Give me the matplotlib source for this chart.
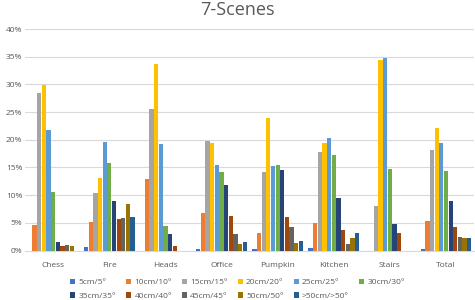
import numpy as np
import matplotlib
matplotlib.use('Agg')
import matplotlib.pyplot as plt
from matplotlib.patches import Patch

# Datos
escenas = ['Chess', 'Fire', 'Heads', 'Office', 'Pumpkin', 'Kitchen', 'Stairs', 'Total']
umbrales = ['5cm/5°', '10cm/10°', '15cm/15°', '20cm/20°', '25cm/25°', '30cm/30°',
            '35cm/35°', '40cm/40°', '45cm/45°', '50cm/50°', '>50cm/>50°']
colores = ['#4472C4', '#ED7D31', '#A5A5A5', '#FFC000', '#5B9BD5', '#70AD47',
           '#264478', '#9E480E', '#636363', '#997300', '#255E91']

# porcentajes por escena (una lista por umbral)
p_5 = [0.0, 0.66, 0.0, 0.25, 0.2, 0.4, 0.0, 0.3]
p_10 = [4.6, 5.1, 12.9, 6.7, 3.1, 4.9, 0.0, 5.3]
p_15 = [28.4, 10.3, 25.6, 19.85, 14.1, 17.8, 8.1, 18.2]
p_20 = [29.9, 13.05, 33.7, 19.5, 23.9, 19.4, 34.4, 22.2]
p_25 = [21.8, 19.6, 19.2, 15.5, 15.3, 20.3, 34.8, 19.5]
p_30 = [10.6, 15.8, 4.45, 14.1, 15.5, 17.2, 14.7, 14.4]
p_35 = [1.6, 8.9, 3.07, 11.85, 14.5, 9.4, 4.7, 9.0]
p_40 = [0.85, 5.7, 0.84, 6.3, 6.0, 3.7, 3.25, 4.3]
p_45 = [1.0, 5.8, 0.0, 2.9, 4.2, 1.1, 0.0, 2.35]
p_50 = [0.85, 8.4, 0.0, 1.25, 1.3, 2.3, 0.0, 2.3]
p_mas = [0.0, 6.1, 0.0, 1.6, 1.7, 3.2, 0.0, 2.3]
series = [p_5, p_10, p_15, p_20, p_25, p_30, p_35, p_40, p_45, p_50, p_mas]

plt.rcParams['font.family'] = ['Open Sans', 'DejaVu Sans']

fig = plt.figure(figsize=(4.75, 3.0), dpi=100)
ax = fig.add_axes([0.053, 0.165, 0.945, 0.738])

x = np.arange(len(escenas))
w = 0.083
for j, (vals, col) in enumerate(zip(series, colores)):
    ax.bar(x + (j - 5) * w, [v / 100 for v in vals], width=w * 0.92,
           color=col, zorder=3)

ax.set_ylim(0, 0.40)
ax.set_xlim(-0.5, len(escenas) - 0.5)
ax.set_yticks(np.arange(0, 0.41, 0.05))
ax.set_yticklabels(['%d%%' % round(t * 100) for t in np.arange(0, 0.41, 0.05)])
ax.set_xticks(x)
ax.set_xticklabels(escenas)
ax.grid(axis='y', color='#D9D9D9', linewidth=0.8, zorder=0)
for s in ['top', 'right', 'left']:
    ax.spines[s].set_visible(False)
ax.spines['bottom'].set_color('#D9D9D9')
ax.tick_params(axis='both', length=0, labelsize=6, labelcolor='#595959')
ax.tick_params(axis='x', pad=8)
ax.tick_params(axis='y', pad=2)

fig.suptitle('7-Scenes', y=0.997, fontsize=13, color='#595959')

# leyenda llenada por filas
orden = [0, 6, 1, 7, 2, 8, 3, 9, 4, 10, 5]
handles = [Patch(facecolor=colores[i]) for i in orden]
etiquetas = [umbrales[i] for i in orden]
fig.legend(handles, etiquetas, loc='lower center', bbox_to_anchor=(0.5, -0.025),
           ncol=6, frameon=False, fontsize=6, labelcolor='#595959',
           handlelength=0.6, handleheight=0.6, handletextpad=0.4,
           columnspacing=1.2, labelspacing=0.75)

plt.savefig('out.png')
